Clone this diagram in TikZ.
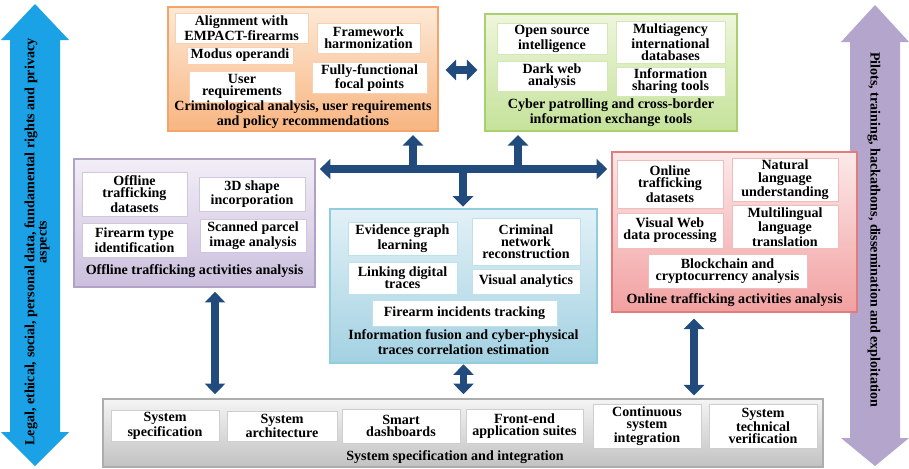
\documentclass[tikz,border=0pt]{standalone}
\usepackage{fontspec}
\setmainfont{Liberation Serif}
\usepackage{tikz}
\usetikzlibrary{calc,arrows.meta}
\definecolor{colorlegal}{HTML}{1BA1E6}
\definecolor{colorpilot}{HTML}{B3A5CC}
\definecolor{colorflow}{HTML}{214B7D}
\definecolor{crimtop}{HTML}{FDE9D6}
\definecolor{crimbot}{HTML}{F8B581}
\definecolor{crimline}{HTML}{F2A46A}
\definecolor{cybtop}{HTML}{EEF6DC}
\definecolor{cybbot}{HTML}{C5E29A}
\definecolor{cybline}{HTML}{A9CF6E}
\definecolor{offtop}{HTML}{F2EEF7}
\definecolor{offbot}{HTML}{CBBFDD}
\definecolor{offline}{HTML}{B2A1C7}
\definecolor{fustop}{HTML}{E2F1F7}
\definecolor{fusbot}{HTML}{A3D1E2}
\definecolor{fusline}{HTML}{92CDDC}
\definecolor{ontop}{HTML}{FCE9E9}
\definecolor{onbot}{HTML}{F2A0A0}
\definecolor{online}{HTML}{E07C7C}
\definecolor{systop}{HTML}{F4F4F4}
\definecolor{sysbot}{HTML}{C2C2C2}
\definecolor{sysline}{HTML}{ADADAD}
\newcommand\boxfont{\fontsize{8}{6.9}\selectfont\bfseries}
\tikzset{
  wh/.style 2 args={minimum width={(#1)*0.02cm}, minimum height={(#2)*0.02cm}},
  grp/.style={line width=0.6pt, inner sep=0pt},
  item/.style={fill=white, line width=0.5pt, align=center, font=\boxfont, inner sep=1pt},
  grplabel/.style={draw=none, align=center, font=\boxfont, inner sep=0pt},
  flow/.style={colorflow, line width=4.5pt,
    arrows={Triangle[width=11.5pt,length=6pt]-Triangle[width=11.5pt,length=6pt]},
    shorten <=2.5pt, shorten >=2.5pt},
  flowup/.style={colorflow, line width=4.5pt,
    arrows={-Triangle[width=11.5pt,length=6pt]}, shorten >=2pt}
}

\begin{document}
\begin{tikzpicture}[x=0.02cm, y=-0.02cm]
\useasboundingbox (0,0) rectangle (909,468);

% side arrows
\fill[colorlegal] (35,4) -- (69,40) -- (60,40) -- (60,432) -- (69,432) -- (35,466)
  -- (1,432) -- (10,432) -- (10,40) -- (1,40) -- cycle;
\node[grplabel, rotate=90] (legal) at (37,242)
{Legal, ethical, social, personal data, fundamental rights and privacy\\aspects};

\fill[colorpilot] (875,5) -- (909,42) -- (900,42) -- (900,438) -- (909,438) -- (875,466)
  -- (841,438) -- (850,438) -- (850,42) -- (841,42) -- cycle;
\node[grplabel, rotate=-90] (pilots) at (874,230)
{Pilots, training, hackathons, dissemination and exploitation};

% criminological analysis
\node[grp, draw=crimline, top color=crimtop, bottom color=crimbot, wh={270}{124}] (crim) at (303,69) {};
\node[item, draw=crimline!50, wh={133}{30}] (empact) at (241.5,28) {Alignment with\\EMPACT-firearms};
\node[item, draw=crimline!50, wh={103}{30}] (harmon) at (368.5,38) {Framework\\harmonization};
\node[item, draw=crimline!50, wh={106}{17}] (modus) at (240,55.5) {Modus operandi};
\node[item, draw=crimline!50, wh={106}{31}] (userreq) at (242,86.5) {User\\requirements};
\node[item, draw=crimline!50, wh={115}{30}] (focal) at (369.5,78) {Fully-functional\\focal points};
\node[grplabel] (crimlbl) at (303,114.5)
{Criminological analysis, user requirements\\and policy recommendations};

% cyber patrolling
\node[grp, draw=cybline, top color=cybtop, bottom color=cybbot, wh={252}{117}] (cyber) at (611,72.5) {};
\node[item, draw=cybline!50, wh={110}{30}] (osint) at (552,39) {Open source\\intelligence};
\node[item, draw=cybline!50, wh={109}{42}] (multi) at (670.5,42) {Multiagency\\international\\databases};
\node[item, draw=cybline!50, wh={110}{30}] (darkweb) at (552,76) {Dark web\\analysis};
\node[item, draw=cybline!50, wh={109}{29}] (sharing) at (670.5,81.5) {Information\\sharing tools};
\node[grplabel] (cyberlbl) at (611,112.5)
{Cyber patrolling and cross-border\\information exchange tools};

% offline trafficking
\node[grp, draw=offline, top color=offtop, bottom color=offbot, wh={241}{128}] (offl) at (194.5,223) {};
\node[item, draw=offline!60, wh={105}{44}] (offdata) at (134.5,194) {Offline\\trafficking\\datasets};
\node[item, draw=offline!60, wh={106}{34}] (shape) at (252,194) {3D shape\\incorporation};
\node[item, draw=offline!60, wh={105}{34}] (ftype) at (134.5,240) {Firearm type\\identification};
\node[item, draw=offline!60, wh={106}{33}] (parcel) at (253,235.5) {Scanned parcel\\image analysis};
\node[grplabel] (offllbl) at (194.5,271) {Offline trafficking activities analysis};

% information fusion
\node[grp, draw=fusline, top color=fustop, bottom color=fusbot, wh={267}{154}] (fusion) at (463.5,286) {};
\node[item, draw=fusline!60, wh={109}{33}] (graph) at (402.5,238.5) {Evidence graph\\learning};
\node[item, draw=fusline!60, wh={108}{47}] (network) at (526,241.5) {Criminal\\network\\reconstruction};
\node[item, draw=fusline!60, wh={109}{32}] (traces) at (402.5,278) {Linking digital\\traces};
\node[item, draw=fusline!60, wh={108}{25}] (visual) at (526,281.5) {Visual analytics};
\node[item, draw=fusline!60, wh={185}{26}] (incid) at (464.5,313) {Firearm incidents tracking};
\node[grplabel] (fusionlbl) at (463.5,342)
{Information fusion and cyber-physical\\traces correlation estimation};

% online trafficking
\node[grp, draw=online, top color=ontop, bottom color=onbot, wh={245}{160}] (onl) at (734.5,232) {};
\node[item, draw=online!50, wh={106}{48}] (ondata) at (670,184) {Online\\trafficking\\datasets};
\node[item, draw=online!50, wh={106}{42}] (nlu) at (785,180) {Natural\\language\\understanding};
\node[item, draw=online!50, wh={106}{35}] (webdata) at (670,230.5) {Visual Web\\data processing};
\node[item, draw=online!50, wh={106}{42}] (transl) at (785,227) {Multilingual\\language\\translation};
\node[item, draw=online!50, wh={159}{34}] (crypto) at (727.5,271) {Blockchain and\\cryptocurrency analysis};
\node[grplabel] (onllbl) at (734.5,300) {Online trafficking activities analysis};

% system specification
\node[grp, draw=sysline, top color=systop, bottom color=sysbot, wh={720}{68}] (sys) at (463,433) {};
\node[item, draw=sysline!60, wh={108}{30}] (sspec) at (165,426) {System\\specification};
\node[item, draw=sysline!60, wh={110}{30}] (sarch) at (282,426) {System\\architecture};
\node[item, draw=sysline!60, wh={118}{34}] (dash) at (401,426) {Smart\\dashboards};
\node[item, draw=sysline!60, wh={117}{34}] (front) at (524.5,426) {Front-end\\application suites};
\node[item, draw=sysline!60, wh={108}{44}] (integ) at (647,426) {Continuous\\system\\integration};
\node[item, draw=sysline!60, wh={108}{44}] (verif) at (763,426) {System\\technical\\verification};
\node[grplabel] (syslbl) at (455,457) {System specification and integration};

% arrows
\coordinate (hub) at (463,169);
\coordinate (hubA) at (413,169);
\coordinate (hubB) at (518,169);
\coordinate (cc) at (460,70);
\coordinate (pg) at (215,0);
\coordinate (rg) at (694,0);

\draw[flow] (offl.east |- hub) -- (onl.west |- hub);
\draw[flowup] (hubA) -- (hubA |- crim.south);
\draw[flowup] (hubB) -- (hubB |- cyber.south);
\draw[flowup, shorten >=1pt] (hub) -- (hub |- fusion.north);
\draw[flow, shorten <=4pt, shorten >=4pt] (cc -| crim.east) -- (cc -| cyber.west);
\draw[flow] (pg |- offl.south) -- (pg |- sys.north);
\draw[flow, shorten <=0.5pt] (fusion.south) -- (fusion.south |- sys.north);
\draw[flow, shorten <=3.4pt, shorten >=1.7pt] (rg |- onl.south) -- (rg |- sys.north);
\end{tikzpicture}
\end{document}
